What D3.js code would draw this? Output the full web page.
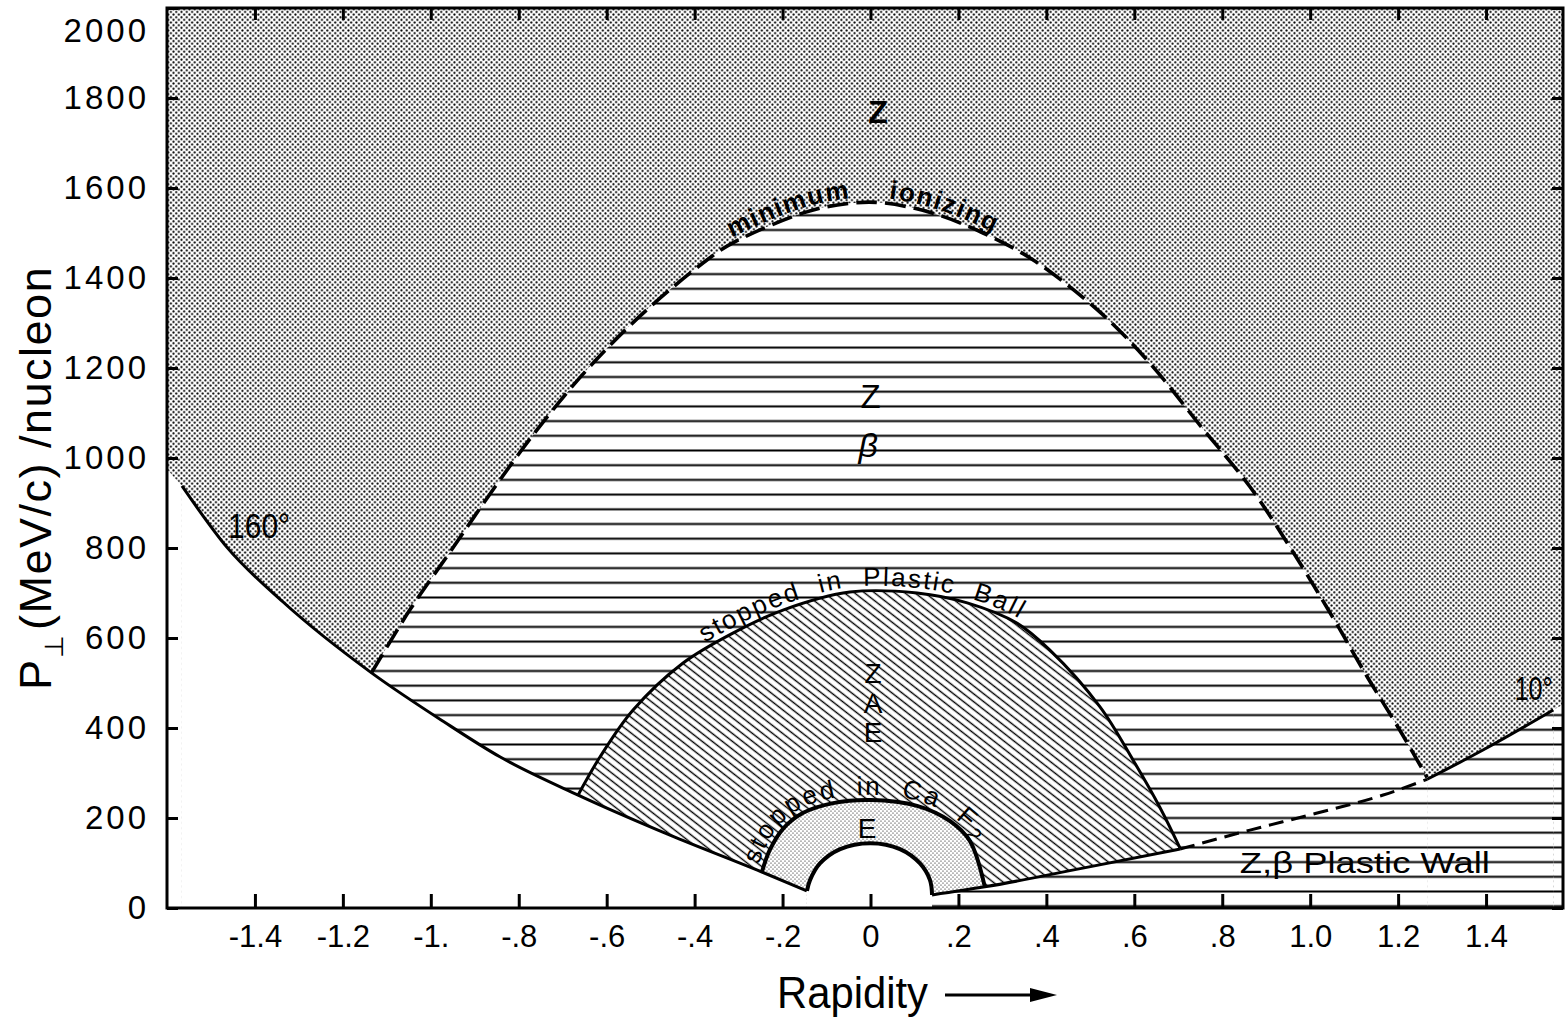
<!DOCTYPE html>
<html><head><meta charset="utf-8">
<script src="https://cdn.jsdelivr.net/npm/d3@7"></script>
<style>
body{margin:0;background:#fff}
text{font-family:"Liberation Sans",Arial,sans-serif;fill:#000}
</style>
</head><body>
<svg id="c" width="1565" height="1023"></svg>
<script>
// ---------------- data ----------------
const xTicks = [-1.4,-1.2,-1.0,-0.8,-0.6,-0.4,-0.2,0,0.2,0.4,0.6,0.8,1.0,1.2,1.4];
const xTickLabels = ["-1.4","-1.2","-1.","-.8","-.6","-.4","-.2","0",".2",".4",".6",".8","1.0","1.2","1.4"];
const yTicks = [0,200,400,600,800,1000,1200,1400,1600,1800,2000];

// minimum ionizing boundary (rapidity, P_perp)
const minIonizing = [[-1.134,524],[-1.048,662],[-0.950,800],[-0.859,929],[-0.759,1062],[-0.645,1196],
  [-0.517,1322],[-0.372,1440],[-0.313,1478],[-0.145,1547],[-0.047,1566],[0.028,1567],[0.142,1544],
  [0.256,1500],[0.370,1440],[0.522,1324],[0.636,1210],[0.750,1072],[0.863,936],[0.961,791],
  [1.052,645],[1.129,515],[1.204,395],[1.266,290]];
// 160 degree line
const angle160 = [[-1.566,938],[-1.464,802],[-1.336,680],[-1.134,522],[-0.972,415],[-0.843,336],
  [-0.665,251],[-0.456,162],[-0.247,80],[-0.145,38]];
const angle160Edge = [[-1.6,975],[-1.566,938]];
// 10 degree line, three pieces
const wallEdgeA = [[0.140,29],[0.260,47],[0.480,88],[0.704,131]];
const wallEdgeB = [[0.704,131],[0.863,173],[1.016,211],[1.166,251],[1.266,286]];
const wallEdgeC = [[1.266,286],[1.393,351],[1.553,440]];
const wallEdgeEnd = [[1.553,440],[1.575,452]];
// stopped in Plastic Ball
const plasticBall = [[-0.665,251],[-0.615,336],[-0.540,440],[-0.427,544],[-0.313,611],[-0.199,662],
  [-0.047,702],[0.106,700],[0.220,678],[0.333,633],[0.408,573],[0.522,447],[0.597,329],[0.658,224],[0.704,133]];
// stopped in CaF2 (outer) and inner hole
const caf2Outer = [[-0.247,80],[-0.229,129],[-0.199,176],[-0.154,211],[-0.085,233],[0,240],
  [0.106,227],[0.181,193],[0.226,149],[0.260,47]];
const caf2Inner = [[-0.1445,38],[-0.1376,62],[-0.115,99],[-0.069,131],[0,144],[0.067,131],[0.1126,99],[0.1353,62],[0.140,29]];

// ---------------- chart ----------------
const svg = d3.select("#c");
const x = d3.scaleLinear().domain([-1.6,1.575]).range([167,1563]);
const y = d3.scaleLinear().domain([0,2000]).range([908,8]);
const defs = svg.append("defs");

const pd = defs.append("pattern").attr("id","dots").attr("patternUnits","userSpaceOnUse")
  .attr("width",5.3).attr("height",5.3);
pd.append("rect").attr("width",5.3).attr("height",5.3).attr("fill","#fff");
pd.append("circle").attr("cx",1.3).attr("cy",1.3).attr("r",1.05).attr("fill","#000");
pd.append("circle").attr("cx",3.95).attr("cy",3.95).attr("r",1.05).attr("fill","#000");

const pf = defs.append("pattern").attr("id","fdots").attr("patternUnits","userSpaceOnUse")
  .attr("width",4).attr("height",4);
pf.append("rect").attr("width",4).attr("height",4).attr("fill","#fff");
pf.append("circle").attr("cx",1).attr("cy",1).attr("r",0.62).attr("fill","#000");
pf.append("circle").attr("cx",3).attr("cy",3).attr("r",0.62).attr("fill","#000");

const ph = defs.append("pattern").attr("id","hlines").attr("patternUnits","userSpaceOnUse")
  .attr("width",20).attr("height",14.7).attr("y",230-7.35);
ph.append("rect").attr("width",20).attr("height",14.7).attr("fill","#fff");
ph.append("line").attr("x1",0).attr("x2",20).attr("y1",7.35).attr("y2",7.35)
  .attr("stroke","#000").attr("stroke-width",2);

const pg = defs.append("pattern").attr("id","diag").attr("patternUnits","userSpaceOnUse")
  .attr("width",10).attr("height",6.2).attr("patternTransform","rotate(38)");
pg.append("rect").attr("width",10).attr("height",6.2).attr("fill","#fff");
pg.append("line").attr("x1",0).attr("x2",10).attr("y1",3.1).attr("y2",3.1)
  .attr("stroke","#000").attr("stroke-width",1.4);

const smooth = d3.curveCatmullRom.alpha(0.5);
const mono = d3.curveMonotoneX;
const lineS = d3.line().x(d=>x(d[0])).y(d=>y(d[1])).curve(smooth);
const lineM = d3.line().x(d=>x(d[0])).y(d=>y(d[1])).curve(mono);
const areaS = d3.area().x(d=>x(d[0])).y0(y(0)).y1(d=>y(d[1])).curve(smooth);
const areaM = d3.area().x(d=>x(d[0])).y0(y(0)).y1(d=>y(d[1])).curve(mono);
const areaLin = d3.area().x(d=>x(d[0])).y0(y(0)).y1(d=>y(d[1]));

const fills = svg.append("g");
fills.append("rect").attr("x",x(-1.6)).attr("y",y(2000)).attr("width",x(1.575)-x(-1.6))
  .attr("height",y(0)-y(2000)).attr("fill","url(#dots)");
fills.append("path").attr("d",areaS(minIonizing)).attr("fill","url(#hlines)");
fills.append("path").attr("d",areaS(plasticBall)).attr("fill","url(#diag)");
fills.append("path").attr("d",areaS(caf2Outer)).attr("fill","url(#fdots)");
fills.append("path").attr("d",areaM(angle160)).attr("fill","#fff");
fills.append("path").attr("d",areaLin(angle160Edge)).attr("fill","#fff");
fills.append("path").attr("d",areaS(caf2Inner)).attr("fill","#fff");
[wallEdgeA,wallEdgeB,wallEdgeC].forEach(a=>fills.append("path").attr("d",areaM(a)).attr("fill","url(#hlines)"));
fills.append("path").attr("d",areaLin(wallEdgeEnd)).attr("fill","url(#hlines)");

const strokes = svg.append("g").attr("fill","none").attr("stroke","#000").attr("stroke-linejoin","round");
strokes.append("path").attr("d",lineM(angle160)).attr("stroke-width",3);
strokes.append("path").attr("d",lineS(caf2Inner)).attr("stroke-width",4);
strokes.append("path").attr("id","pCaF").attr("d",lineS(caf2Outer)).attr("stroke-width",4);
strokes.append("path").attr("id","pBall").attr("d",lineS(plasticBall)).attr("stroke-width",3);
strokes.append("path").attr("d",lineM(wallEdgeA)).attr("stroke-width",3);
strokes.append("path").attr("d",lineM(wallEdgeB)).attr("stroke-width",3).attr("stroke-dasharray","15,8");
strokes.append("path").attr("d",lineM(wallEdgeC)).attr("stroke-width",3);
strokes.append("path").attr("id","pMin").attr("d",lineS(minIonizing)).attr("stroke-width",3.6).attr("stroke-dasharray","21,8");

// frame
svg.append("rect").attr("x",x(-1.6)).attr("y",y(2000)).attr("width",x(1.575)-x(-1.6))
  .attr("height",y(0)-y(2000)).attr("fill","none").attr("stroke","#000").attr("stroke-width",3);

function styleAxis(g){ g.select(".domain").remove(); g.selectAll(".tick line").attr("stroke","#000").attr("stroke-width",3); }
svg.append("g").attr("transform",`translate(0,${y(0)})`)
  .call(d3.axisBottom(x).tickValues(xTicks).tickSize(-14).tickPadding(17).tickFormat((d,i)=>xTickLabels[i]))
  .call(styleAxis)
  .call(g=>g.selectAll("text").attr("font-size",31).attr("font-family","Liberation Sans, Arial, sans-serif"));
svg.append("g").attr("transform",`translate(0,${y(2000)})`)
  .call(d3.axisTop(x).tickValues(xTicks).tickSize(-12).tickFormat(""))
  .call(styleAxis);
svg.append("g").attr("transform",`translate(${x(-1.6)},0)`)
  .call(d3.axisLeft(y).tickValues(yTicks).tickSize(-11).tickPadding(18).tickFormat(d3.format("d")))
  .call(styleAxis)
  .call(g=>g.selectAll("text").attr("font-size",33).attr("letter-spacing",3)
     .attr("font-family","DejaVu Sans, sans-serif")
     .attr("dy",d=>d===2000?"1.0em":"0.32em"));
svg.append("g").attr("transform",`translate(${x(1.575)},0)`)
  .call(d3.axisRight(y).tickValues(yTicks).tickSize(-11).tickFormat(""))
  .call(styleAxis);

// axis titles
const yt = svg.append("text").attr("transform","translate(51,690) rotate(-90)").attr("font-size",45)
  .attr("letter-spacing",1.5);
yt.append("tspan").text("P");
yt.append("tspan").attr("font-size",26).attr("dy",12).text("\u22A5");
yt.append("tspan").attr("dy",-12).attr("dx",4).text("(MeV/c) /nucleon");

svg.append("text").attr("x",777).attr("y",1008).attr("font-size",45).attr("textLength",151)
  .attr("lengthAdjust","spacingAndGlyphs").text("Rapidity");
svg.append("line").attr("x1",945).attr("x2",1036).attr("y1",995).attr("y2",995).attr("stroke","#000").attr("stroke-width",3);
svg.append("path").attr("d","M1030,988 L1057,995 L1030,1002 Z").attr("fill","#000");

// text along curves
function lengthAtX(node, px){
  const L = node.getTotalLength(); let best=0, bd=1e9;
  for(let l=0;l<=L;l+=0.5){ const p=node.getPointAtLength(l); const d=Math.abs(p.x-px); if(d<bd){bd=d;best=l;} }
  return best;
}
function pathText(id, startX, opts){
  const node = document.getElementById(id);
  const t = svg.append("text").attr("dy",opts.dy).attr("font-size",opts.size)
    .attr("letter-spacing",opts.ls||0).attr("word-spacing",opts.ws||0)
    .attr("font-weight",opts.bold?"bold":"normal");
  return t.append("textPath").attr("href","#"+id).attr("startOffset",lengthAtX(node,x(startX)));
}
pathText("pMin",-0.31,{dy:-5,size:26,ls:1.2,bold:true}).text("minimum");
pathText("pMin",0.04,{dy:-5,size:26,ls:1.5,bold:true}).text("ionizing");
pathText("pBall",-0.372,{dy:-5,size:26,ls:2,ws:9}).text("stopped in Plastic Ball");
const tc = pathText("pCaF",-0.243,{dy:-5,size:26,ls:1.8,ws:10});
tc.append("tspan").text("stopped in Ca F");
tc.append("tspan").attr("font-size",20).attr("dy",5).text("2");

// region labels
function label(xv, yv, str, size, anchor, extra){
  const t = svg.append("text").attr("x",x(xv)).attr("y",y(yv)).attr("font-size",size)
    .attr("text-anchor",anchor||"middle").text(str);
  if(extra) extra(t);
  return t;
}
label(0.017,1744,"Z",32,"middle",t=>t.attr("font-weight","bold"));
label(0,1111,"Z",33);
label(-0.005,1002,"\u03B2",34,"middle",t=>t.attr("font-style","italic"));
label(0.006,500,"Z",28);
label(0.006,433,"A",28);
label(0.006,369,"E",28);
label(-0.008,156,"E",28);
label(-1.461,822,"160\u00B0",35,"start",t=>t.attr("textLength",62).attr("lengthAdjust","spacingAndGlyphs"));
label(1.465,462,"10\u00B0",34,"start",t=>t.attr("textLength",38).attr("lengthAdjust","spacingAndGlyphs"));
label(0.840,78,"Z,\u03B2 Plastic Wall",29,"start",t=>t.attr("textLength",250).attr("lengthAdjust","spacingAndGlyphs"));
</script>
</body></html>
